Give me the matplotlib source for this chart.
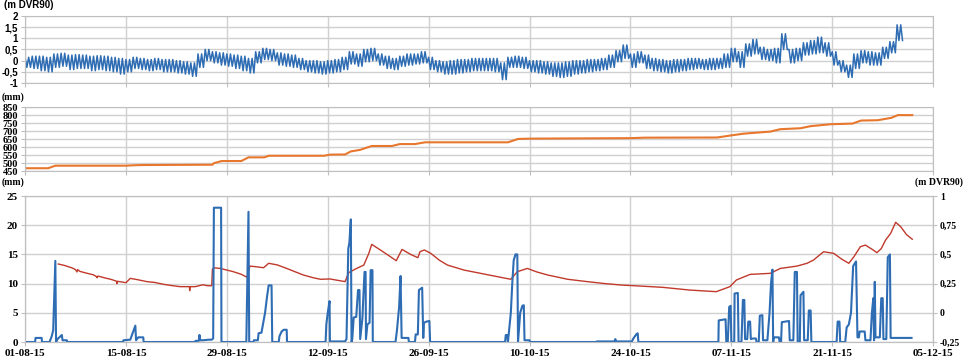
import matplotlib
matplotlib.use('Agg')
import matplotlib.pyplot as plt

# x axis: days since 01-08-15
tick_days = [0, 14, 28, 42, 56, 70, 84, 98, 112, 126]
tick_labels = ['01-08-15', '15-08-15', '29-08-15', '12-09-15', '26-09-15',
               '10-10-15', '24-10-15', '07-11-15', '21-11-15', '05-12-15']

# Top panel: sea level (m DVR90), daily high / low water
tide_high = [0.15, 0.2, 0.2, 0.15, 0.3, 0.33, 0.25, 0.27, 0.25, 0.2,
             0.22, 0.2, 0.15, 0.1, 0.05, 0.15, 0.1, 0.05, 0.1, 0.05,
             0.05, 0.0, -0.05, -0.1, 0.3, 0.5, 0.4, 0.35, 0.3, 0.25,
             0.2, 0.1, 0.4, 0.55, 0.5, 0.35, 0.3, 0.25, 0.1, 0.0,
             0.0, -0.05, 0.0, 0.05, 0.15, 0.4, 0.3, 0.5, 0.55, 0.3,
             0.2, 0.1, 0.2, 0.3, 0.3, 0.4, 0.15, 0.0, -0.05, 0.0,
             0.05, 0.05, 0.1, 0.1, 0.1, 0.1, -0.1, 0.15, 0.2, 0.15,
             0.0, 0.0, -0.05, -0.1, -0.1, -0.05, 0.0, 0.0, 0.05, 0.05,
             0.1, 0.25, 0.45, 0.7, 0.3, 0.4, 0.25, 0.1, 0.05, 0.0,
             0.05, 0.05, 0.1, 0.1, 0.05, 0.1, 0.1, 0.3, 0.55, 0.4,
             0.75, 0.95, 0.6, 0.5, 0.55, 1.2, 0.5, 0.55, 0.8, 0.9,
             1.05, 0.8, 0.4, 0.0, -0.2, 0.3, 0.45, 0.4, 0.35, 0.6,
             0.85, 1.6]
tide_low = [-0.3, -0.35, -0.45, -0.5, -0.3, -0.25, -0.4, -0.35, -0.35, -0.45,
            -0.4, -0.45, -0.5, -0.6, -0.5, -0.35, -0.4, -0.45, -0.4, -0.5,
            -0.5, -0.55, -0.6, -0.7, -0.3, 0.0, -0.1, -0.2, -0.25, -0.35,
            -0.45, -0.55, -0.1, 0.05, 0.0, -0.2, -0.25, -0.3, -0.4, -0.5,
            -0.55, -0.6, -0.55, -0.5, -0.4, -0.15, -0.25, -0.05, 0.0, -0.2,
            -0.35, -0.4, -0.25, -0.2, -0.15, -0.1, -0.4, -0.5, -0.6, -0.6,
            -0.55, -0.5, -0.45, -0.45, -0.45, -0.5, -0.85, -0.3, -0.3, -0.35,
            -0.5, -0.55, -0.6, -0.7, -0.75, -0.7, -0.6, -0.55, -0.5, -0.45,
            -0.4, -0.3, -0.05, 0.1, -0.3, -0.1, -0.35, -0.45, -0.5, -0.55,
            -0.5, -0.45, -0.4, -0.35, -0.4, -0.4, -0.35, -0.3, -0.05, -0.3,
            0.2, 0.3, 0.05, 0.0, -0.1, 0.5, -0.1, 0.0, 0.25, 0.3,
            0.35, 0.2, -0.2, -0.5, -0.75, -0.35, -0.1, -0.2, -0.2, 0.1,
            0.35, 0.9]

# Middle panel: accumulated precipitation (mm)
cum_day = [0, 3.2, 4.2, 14, 15.3, 16.4, 26, 26.2, 27.3, 30, 31, 33.2, 33.8, 41.5,
           42.3, 44.4, 45.2, 46.5, 48.1, 50.9, 52, 54.1, 55.5, 67, 68.4, 70, 84,
           86, 96, 97.8, 99.7, 103.4, 104.8, 107.6, 109, 111.8, 114.8, 116,
           118.3, 120.2, 121.1, 123.1]
cum_mm = [468, 468, 484, 484, 487, 488, 490, 500, 513, 513, 536, 536, 546, 546,
          553, 554, 573, 583, 607, 607, 619, 619, 630, 630, 651, 653, 656,
          659, 660, 672, 684, 697, 712, 718, 731, 743, 747, 766,
          768, 783, 800, 800]

# Bottom panel: precipitation (mm)
rain_day = [0, 1.4, 1.45, 2.3, 2.35, 3.4, 3.7, 3.9, 4.2, 4.3, 4.5, 5.1, 5.2, 5.8, 5.85,
            13.6, 13.65, 14.6, 15.3, 15.4, 15.7, 16.4, 16.45,
            23.6, 23.65, 24.1, 24.2, 24.3, 24.7, 25.5, 25.9, 26.1, 26.2, 27.2, 27.25,
            30.7, 31.0, 31.1, 31.7, 31.75, 32.3, 32.4, 32.8, 33.3, 33.6, 33.8, 34.2, 34.3,
            35.2, 35.3, 35.6, 35.9, 36.3, 36.35,
            41.7, 41.8, 42.0, 42.25, 42.3, 44.4, 44.6, 44.85, 45.0, 45.2, 45.3, 45.4, 45.6,
            45.95, 46.2, 46.4, 46.5, 46.8, 47.1, 47.25, 47.3, 47.5, 47.8, 47.95, 48.2, 48.25,
            51.4, 51.6, 51.9, 52.1, 52.25, 53.2, 53.25, 54.1, 54.2, 54.5, 54.65, 55.1, 55.25,
            55.35, 55.7, 56.1, 56.2,
            66.6, 66.7, 66.9, 67.0, 67.4, 67.6, 67.8, 68.05, 68.3, 68.4, 68.7, 69.0, 69.2,
            69.3, 70.0, 70.05,
            79.3, 79.35, 81.8, 81.9, 82.0, 84.2, 84.4, 84.8, 85.0, 85.1,
            96.2, 96.25, 97.2, 97.3, 97.5, 97.7, 97.9, 98.0, 98.4, 98.45, 98.9, 99.0, 99.4,
            99.6, 99.8, 99.9, 100.2, 100.35, 100.6, 100.7, 101.0, 101.4, 101.5, 101.8,
            101.95, 102.3, 102.4, 103.0, 103.3, 103.5, 103.7, 103.8, 103.9, 104.6, 104.7,
            104.9, 105.0, 106.0, 106.1, 106.6, 106.8, 107.1, 107.2, 107.5, 107.6, 108.0,
            108.1, 108.6, 108.75, 109.0, 109.1,
            112.6, 112.75, 113.0, 113.1, 113.8, 114.0, 114.3, 114.6, 114.9, 115.3, 115.5,
            115.7, 115.8, 116.5, 116.6, 117.3, 117.5, 117.7, 117.8, 117.9, 118.0, 118.6,
            118.8, 119.0, 119.1, 119.5, 119.7, 120.0, 120.1, 123.0]
rain_mm = [0, 0, 0.7, 0.7, 0, 0, 1, 2, 13.9, 0, 0.5, 1.2, 0.3, 0.3, 0,
           0, 0.3, 0.4, 2.8, 0.3, 0.8, 0.8, 0,
           0, 0.2, 0.2, 1.2, 0.3, 0.3, 0.4, 0.4, 0.6, 23, 23, 0,
           0, 22.3, 0, 0, 0.3, 0.3, 1.5, 1.6, 5, 8, 9.7, 9.7, 0,
           0, 1, 1.8, 2.1, 2.1, 0,
           0, 3, 5, 7, 0.1, 0.1, 0.5, 16, 17, 21, 0, 0.5, 4.2,
           4.3, 8.9, 8.9, 0.5, 4, 12, 12, 0.5, 3, 3.3, 12.3, 12.3, 0,
           0, 2, 6, 11.3, 0.7, 0.7, 0, 0, 1.3, 1.3, 8.9, 9.3, 0.7,
           3.3, 3.5, 3.6, 0,
           0, 1.2, 1.2, 0, 5, 10, 14, 15, 15, 0, 5, 6.2, 6.3,
           0.3, 0.3, 0,
           0, 0.1, 0.1, 0.5, 0.1, 0.1, 0.6, 1.3, 1.5, 0,
           0, 3.7, 3.9, 0, 0, 6, 6.2, 0, 0, 8.3, 8.4, 0, 0,
           7.2, 7.2, 0.5, 0.5, 3.5, 3.5, 0.5, 0.6, 0.6, 0, 0,
           4.5, 4.6, 0.3, 0.3, 5, 10, 12.4, 0, 0.8, 0.8, 0,
           0, 3.4, 3.6, 0.3, 0.3, 12, 12, 0, 0, 8, 8.6,
           0.3, 0.3, 5.4, 5.4, 0,
           0, 3.5, 3.5, 0, 0, 2.5, 3, 5, 13, 13.8, 0.8,
           0.8, 1.8, 1.8, 0.3, 0.3, 5, 7.5, 0.3, 10.3, 0.8, 0.8,
           7.5, 7.5, 0.5, 0.5, 14.5, 15, 0.7, 0.7]

# Bottom panel: groundwater level (m DVR90)
gw_day = [4.6, 5.5, 6.5, 7.0, 7.2, 7.3, 7.6, 8.5, 9.5, 9.9, 10.0, 10.1, 11, 12.0, 12.7,
          12.75, 12.8, 14, 14.6, 15.5, 16.9, 18, 19.2, 20.5, 21.5, 22.8, 22.85, 22.9,
          23.6, 24.7, 25.3, 25.9, 26.0, 26.3, 27.1, 28.9, 30.0, 30.8, 31.2, 32.0, 33.1,
          33.8, 35.0, 36.3, 38.6, 40.0, 41.0, 42.3, 44.4, 44.9, 46.0, 47.0, 47.7, 48.1,
          49.5, 50.7, 51.5, 52.3, 53.5, 54.5, 54.8, 55.4, 56.3, 57.5, 58.6, 60.9, 63.2,
          65.5, 67.4, 68.3, 69.7, 71, 72.5, 75.3, 78, 80.5, 82.7, 85.4, 88.5, 92.2, 95.9,
          97.8, 98.7, 100.6, 103.4, 104.8, 107.1, 108.5, 109.4, 110.8, 112.2, 113.3,
          114.3, 115.0, 115.9, 116.6, 117.5, 118.2, 118.8, 119.4, 120.1, 120.8, 121.5,
          122.3, 123.1]
gw_m = [0.418, 0.405, 0.385, 0.37, 0.35, 0.37, 0.355, 0.34, 0.325, 0.31, 0.3, 0.315, 0.3,
        0.285, 0.27, 0.25, 0.27, 0.258, 0.295, 0.285, 0.267, 0.26, 0.244, 0.232, 0.224,
        0.224, 0.19, 0.224, 0.224, 0.24, 0.232, 0.232, 0.375, 0.385, 0.38, 0.352, 0.33,
        0.304, 0.4, 0.395, 0.386, 0.424, 0.41, 0.38, 0.324, 0.3, 0.287, 0.29, 0.267,
        0.344, 0.38, 0.409, 0.509, 0.586, 0.53, 0.48, 0.446, 0.543, 0.5, 0.472, 0.523,
        0.538, 0.509, 0.45, 0.409, 0.366, 0.338, 0.31, 0.287, 0.352, 0.38, 0.35, 0.324,
        0.287, 0.267, 0.25, 0.238, 0.229, 0.218, 0.195, 0.181, 0.224, 0.281, 0.329,
        0.338, 0.38, 0.4, 0.424, 0.452, 0.523, 0.509, 0.46, 0.424, 0.48, 0.566, 0.58,
        0.545, 0.515, 0.55, 0.623, 0.68, 0.775, 0.737, 0.67, 0.63]

BLUE = '#2E6DB4'
ORANGE = '#E8772E'
RED = '#C0392B'
GRID = '#D0D0D0'
SANS = dict(family='Liberation Sans', weight='bold')
SERIF = dict(family='Liberation Serif', weight='bold')


def comma(v):
    s = ('%g' % v)
    return s.replace('.', ',')


def style(ax, font, size):
    ax.set_xlim(0, 126)
    ax.set_xticks(tick_days)
    ax.grid(True, color=GRID, linewidth=1.0)
    for s in ax.spines.values():
        s.set_color('#BFBFBF')
    ax.tick_params(colors='#BFBFBF', length=3, pad=2)
    for lab in ax.get_yticklabels():
        lab.set_color('black')
        lab.set_fontsize(size)
        lab.set_fontfamily(font['family'])
        lab.set_fontweight('bold')


fig = plt.figure(figsize=(9.64, 3.61), dpi=100)

# top panel
ax1 = fig.add_axes([0.026, 0.770, 0.942, 0.186])
t_tide, v_tide = [], []
for d, (h, l) in enumerate(zip(tide_high, tide_low)):
    t_tide += [d, d + 0.25, d + 0.5, d + 0.75]
    v_tide += [h, l, h, l]
ax1.plot(t_tide, v_tide, color=BLUE, lw=1.1)
ax1.set_ylim(-1, 2)
yt = [-1, -0.5, 0, 0.5, 1, 1.5, 2]
ax1.set_yticks(yt)
ax1.set_yticklabels([comma(v) for v in yt])
ax1.set_xticklabels([])
style(ax1, SANS, 7)

# middle panel
ax2 = fig.add_axes([0.026, 0.526, 0.942, 0.1773])
ax2.plot(cum_day, cum_mm, color=ORANGE, lw=1.5)
ax2.set_ylim(450, 850)
ax2.set_yticks(range(450, 851, 50))
ax2.set_xticklabels([])
style(ax2, SERIF, 7.5)

# bottom panel
ax4 = fig.add_axes([0.026, 0.0526, 0.942, 0.4044])
ax3 = ax4.twinx()
ax4.yaxis.tick_right()
ax3.yaxis.tick_left()
ax4.plot(gw_day, gw_m, color=RED, lw=1.0)
ax4.set_ylim(-0.25, 1)
rt = [-0.25, 0, 0.25, 0.5, 0.75, 1]
ax4.set_yticks(rt)
ax4.set_yticklabels([comma(v) for v in rt])
ax4.set_xticklabels(tick_labels)
style(ax4, SERIF, 7)
for lab in ax4.get_xticklabels():
    lab.set_color('black')
    lab.set_fontsize(8)
    lab.set_fontfamily('Liberation Serif')
    lab.set_fontweight('bold')

ax3.set_zorder(ax4.get_zorder() + 1)
ax3.patch.set_visible(False)
ax3.plot(rain_day, rain_mm, color=BLUE, lw=1.5)
ax3.set_ylim(0, 25)
ax3.set_yticks(range(0, 26, 5))
ax3.set_xlim(0, 126)
for s in ax3.spines.values():
    s.set_color('#BFBFBF')
ax3.tick_params(colors='#BFBFBF', length=3, pad=2)
for lab in ax3.get_yticklabels():
    lab.set_color('black')
    lab.set_fontsize(8)
    lab.set_fontfamily('Liberation Serif')
    lab.set_fontweight('bold')

fig.text(0.004, 1 - 5 / 361, '(m DVR90)', fontsize=7, va='center', **SANS)
fig.text(0.002, 1 - 97 / 361, '(mm)', fontsize=7, va='center', **SERIF)
fig.text(0.002, 1 - 182 / 361, '(mm)', fontsize=7, va='center', **SERIF)
fig.text(0.999, 1 - 182 / 361, '(m DVR90)', fontsize=7, va='center', ha='right', **SERIF)

fig.savefig('out.png', dpi=100)
